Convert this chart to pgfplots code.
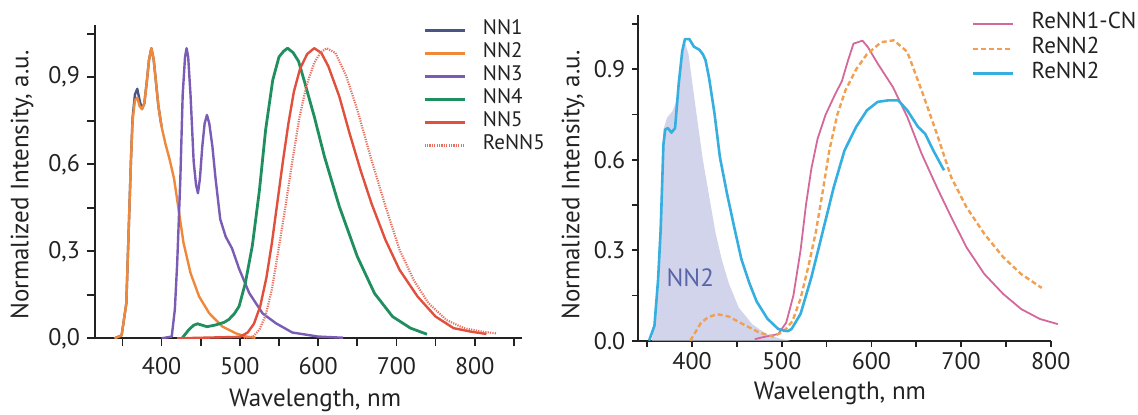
\documentclass[border=0pt]{standalone}
\usepackage{fontspec}
\setmainfont{PT Sans}
\usepackage{pgfplots}
\pgfplotsset{compat=1.18}
\definecolor{txt}{HTML}{222222}
\definecolor{cNNa}{HTML}{4A5585}
\definecolor{cNNb}{HTML}{F0883A}
\definecolor{cNNc}{HTML}{7B5CB5}
\definecolor{cNNd}{HTML}{1F8F5F}
\definecolor{cNNe}{HTML}{E0503C}
\definecolor{cReNNe}{HTML}{E87060}
\definecolor{cpink}{HTML}{D4689A}
\definecolor{cdash}{HTML}{F0A050}
\definecolor{cblue}{HTML}{35AEE0}
\definecolor{nnfill}{HTML}{D2D4EC}
\definecolor{nnlab}{HTML}{5A64A8}

\pgfplotsset{specax/.style={
  scale only axis, axis x line*=bottom, axis y line*=left,
  axis line style={line width=1pt, txt, -},
  tick align=outside, tick style={line width=0.9pt, txt},
  ymin=0, ymax=1.08, ytick={0,0.3,0.6,0.9}, minor ytick={0.15,0.45,0.75,1.05},
  font=\fontsize{12}{14}\selectfont, text=txt,
  label style={font=\fontsize{12.5}{15}\selectfont},
  /pgf/number format/assume math mode=true,
  yticklabel style={/pgf/number format/fixed, /pgf/number format/fixed zerofill,
    /pgf/number format/precision=1},
  xticklabel style={/pgf/number format/1000 sep={}},
  legend style={draw=none, fill=none, inner sep=0pt, row sep=0pt,
    font=\fontsize{10.5}{12}\selectfont,
    nodes={inner ysep=0pt, inner xsep=0pt, text height=8pt, text depth=3.5pt},
    /tikz/every odd column/.append style={column sep=8.5pt}},
  legend cell align=left,
  legend image code/.code={\draw[##1] (0pt,0pt) -- (20pt,0pt);},
  every axis plot/.append style={line join=round},
}}

\begin{document}
\begin{tikzpicture}
\path[use as bounding box] (0,0) rectangle (569pt,207pt);

% left panel: NN1-NN5, ReNN5
\begin{axis}[specax, at={(47.5pt,37.85pt)}, anchor=south west,
  width=213.35pt, height=156.65pt, xmin=315, xmax=860,
  xtick={400,500,...,800}, minor xtick={350,450,...,850},
  major tick length=4pt, minor tick length=4pt,
  yticklabel style={/pgf/number format/use comma},
  xticklabel style={yshift=-2pt},
  xlabel={Wavelength, nm}, ylabel={Normalized Intensity, a.u.},
  xlabel style={at={(axis description cs:0.516,-0.219)}, anchor=base},
  ylabel style={at={(axis description cs:-0.171,0.489)}, anchor=center},
  legend style={at={(0.768,1.0207)}, anchor=north west}]
\addplot[cNNa, line width=1.2pt] table {
340 0
349 0.01
355 0.12
358 0.37
361 0.62
363 0.76
366 0.84
369 0.86
372 0.82
375 0.79
378 0.81
381 0.88
384 0.96
387 1.00
390 0.96
393 0.88
396 0.80
400 0.73
};
\addlegendentry{NN1}
\addplot[cNNb, line width=1.2pt] table {
340 0
349 0.01
355 0.12
358 0.37
361 0.62
363 0.75
366 0.82
369 0.83
372 0.80
375 0.79
378 0.81
381 0.88
384 0.96
387 1.00
390 0.96
393 0.88
396 0.80
400 0.73
405 0.67
410 0.62
416 0.55
422 0.44
428 0.33
437 0.225
448 0.144
461 0.086
478 0.04
495 0.017
508 0.006
520 0.002
};
\addlegendentry{NN2}
\addplot[cNNc, line width=1.2pt] table {
400 0
413 0.006
417 0.1
420 0.26
424 0.55
427 0.84
430 0.97
432 1.0
434 0.97
437 0.84
441 0.61
444 0.53
446.5 0.50
449 0.55
452 0.66
455 0.74
458 0.77
461 0.74
465 0.66
469 0.55
475 0.41
482 0.35
490 0.31
499 0.24
512 0.156
529 0.086
546 0.052
567 0.02
600 0.006
632 0.002
};
\addlegendentry{NN3}
\addplot[cNNd, line width=1.4pt] table {
426 0
435 0.03
441 0.045
446 0.05
452 0.045
458 0.04
469 0.046
480 0.055
486 0.065
493 0.085
499 0.11
507 0.19
516 0.32
525 0.51
533 0.72
542 0.89
550 0.97
556 0.99
561 1.0
568 0.985
575 0.955
582 0.89
595 0.765
608 0.627
627 0.455
650 0.282
672 0.155
695 0.075
718 0.035
739 0.014
};
\addlegendentry{NN4}
\addplot[cNNe, line width=1.2pt] table {
420 0
500 0.005
510 0.02
518 0.05
526 0.11
534 0.21
541 0.33
548 0.47
555 0.61
562 0.74
569 0.85
577 0.93
586 0.98
595 1.0
604 0.984
613 0.938
627 0.834
640 0.708
654 0.581
668 0.466
686 0.339
704 0.236
727 0.144
750 0.075
773 0.035
795 0.023
815 0.015
};
\addlegendentry{NN5}
\addplot[cReNNe, line width=1.1pt, dash pattern=on 0.6pt off 0.6pt] table {
505 0
517 0.006
525 0.03
533 0.08
541 0.17
549 0.3
558 0.45
567 0.61
576 0.76
585 0.87
595 0.95
603 0.985
611 1.0
622 0.984
636 0.903
650 0.788
668 0.616
686 0.455
704 0.305
722 0.201
741 0.121
764 0.063
786 0.035
809 0.023
828 0.017
};
\addlegendentry{ReNN5}
\end{axis}

% right panel: ReNN1-CN, ReNN2, NN2 area
\begin{axis}[specax, at={(319.15pt,36.65pt)}, anchor=south west,
  width=206.2pt, height=162.85pt, xmin=340, xmax=800, clip=false,
  xtick={400,500,...,800}, minor xtick={350,450,...,750},
  major tick length=3pt, minor tick length=3pt,
  xticklabel style={yshift=0.5pt},
  xlabel={Wavelength, nm}, ylabel={Normalized Intensity, a.u.},
  xlabel style={at={(axis description cs:0.489,-0.182)}, anchor=base},
  ylabel style={at={(axis description cs:-0.158,0.478)}, anchor=center},
  legend style={at={(0.8084,1.0129)}, anchor=north west,
    font=\fontsize{11.5}{13}\selectfont,
    nodes={text height=8.8pt, text depth=3.7pt}}]
\addplot[fill=nnfill, draw=none, forget plot] table {
355 0
360 0.1
364 0.4
368 0.7
372 0.74
378 0.76
383 0.8
388 0.92
392 0.99
396 0.95
400 0.86
405 0.75
412 0.6
419 0.48
426 0.36
433 0.27
441 0.19
452 0.11
467 0.055
483 0.022
500 0.005
510 0
} \closedcycle;
\addplot[cpink, line width=0.9pt] table {
470 0.005
478 0.011
496 0.022
505 0.06
513 0.15
521 0.30
527 0.45
533 0.57
540 0.67
549 0.75
560 0.82
567 0.86
574 0.93
580 0.985
590 0.995
596 0.974
607 0.919
624 0.841
640 0.742
656 0.62
673 0.509
689 0.41
706 0.31
726 0.221
747 0.155
767 0.105
788 0.072
808 0.055
};
\addlegendentry{ReNN1-CN}
\addplot[cdash, line width=1.2pt, dash pattern=on 2.5pt off 1.5pt] table {
398 0
404 0.03
410 0.06
418 0.078
428 0.088
441 0.08
456 0.056
475 0.027
490 0.014
502 0.03
512 0.065
521 0.14
530 0.25
538 0.36
546 0.5
553 0.63
562 0.75
571 0.83
583 0.9
595 0.95
611 0.99
625 0.996
640 0.958
656 0.83
673 0.686
689 0.542
706 0.443
726 0.354
747 0.277
767 0.221
790 0.175
};
\addlegendentry{ReNN2}
\addplot[cblue, line width=1.3pt] table {
352 0
358 0.05
362 0.2
365 0.37
368 0.65
370 0.70
373 0.705
377 0.69
381 0.705
385 0.85
389 0.96
392 1.0
397 1.0
402 0.975
408 0.965
412 0.95
415 0.93
419 0.87
425 0.753
431 0.609
439 0.487
447 0.376
455 0.27
464 0.19
472 0.13
484 0.073
496 0.039
503 0.033
507 0.032
511 0.039
521 0.089
533 0.21
546 0.365
558 0.509
570 0.631
583 0.709
595 0.764
607 0.792
619 0.797
630 0.797
640 0.764
652 0.709
660 0.686
669 0.631
681 0.565
};
\addlegendentry{ReNN2}
\node[font=\fontsize{12.5}{14}\selectfont, text=nnlab] at (axis cs:398,0.209) {NN2};
\end{axis}
\end{tikzpicture}
\end{document}
